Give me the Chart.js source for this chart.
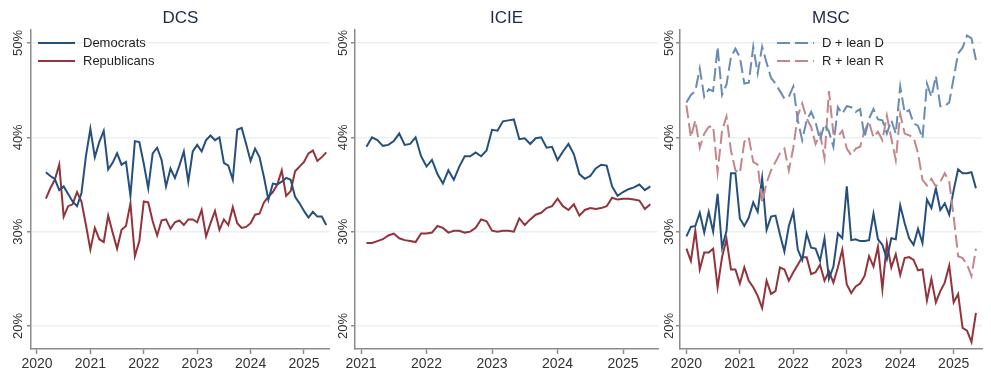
<!DOCTYPE html>
<html>
<head>
<meta charset="utf-8">
<title>Partisan shares: DCS, ICIE, MSC</title>
<script src="https://cdn.jsdelivr.net/npm/chart.js@4.4.1/dist/chart.umd.min.js"></script>
<style>
  html, body { margin: 0; padding: 0; background: #ffffff; }
  #wrap { position: relative; width: 991px; height: 381px; overflow: hidden; }
  #wrap canvas { position: absolute; top: 0; }
</style>
</head>
<body>
<div id="wrap">
  <canvas id="dcsChart" width="330" height="381" style="left:0px"></canvas>
  <canvas id="icieChart" width="330" height="381" style="left:330px"></canvas>
  <canvas id="mscChart" width="331" height="381" style="left:660px"></canvas>
</div>
<script>
// ---- Data (monthly shares, %) ----
const yTicks = [20, 30, 40, 50];
const dcsYears = [2020, 2021, 2022, 2023, 2024, 2025];
const icieYears = [2021, 2022, 2023, 2024, 2025];
const mscYears = [2020, 2021, 2022, 2023, 2024, 2025];

// DCS: March 2020 - June 2025
const dcsStart = [2020, 3];
const dcsDemocrats = [
  36.3, 35.9, 35.6, 34.4, 34.8, 34.0, 33.2, 32.7, 34.1, 38.0,
  40.9, 37.9, 39.5, 40.7, 36.6, 37.3, 38.3, 37.1, 37.4, 33.8, 39.6, 39.5,
  37.2, 34.6, 38.3, 38.9, 37.6, 34.8, 36.7, 35.7, 37.0, 38.5, 35.3, 38.5,
  39.2, 38.5, 39.7, 40.2, 39.7, 40.0, 37.3, 37.0, 35.5, 40.8, 41.0, 39.3,
  37.5, 38.8, 37.9, 35.8, 33.4, 35.1, 35.0, 35.3, 35.7, 35.5, 33.7, 33.0,
  32.2, 31.5, 32.1, 31.6, 31.6, 30.7
];
const dcsRepublicans = [
  33.5, 34.6, 35.5, 37.1, 31.6, 32.7, 32.9, 34.2, 33.2, 30.7,
  28.1, 30.4, 29.2, 28.9, 31.7, 29.9, 28.2, 30.2, 30.6, 33.0, 27.4, 29.0,
  33.2, 33.1, 31.1, 29.6, 31.2, 31.3, 30.3, 31.0, 31.2, 30.7, 31.3, 31.3,
  31.0, 32.3, 29.5, 30.9, 32.2, 30.2, 31.3, 30.7, 32.6, 30.9, 30.4, 30.5,
  30.9, 31.8, 31.9, 33.1, 33.7, 34.2, 35.0, 36.5, 33.8, 34.3, 36.4, 36.9,
  37.4, 38.3, 38.6, 37.5, 37.9, 38.4
];

// ICIE: February 2021 - June 2025
const icieStart = [2021, 2];
const icieDemocrats = [
  39.0, 40.0, 39.7, 39.1, 39.2, 39.6, 40.4, 39.2, 39.3, 40.0, 38.0,
  36.9, 37.6, 36.1, 35.1, 36.5, 35.5, 36.9, 38.0, 38.0, 38.4, 38.0, 38.6,
  40.8, 40.7, 41.7, 41.8, 41.9, 39.8, 39.9, 39.3, 39.9, 40.0, 38.9, 39.0,
  37.6, 38.5, 39.3, 38.2, 36.1, 35.6, 35.9, 36.7, 37.1, 37.0, 34.8, 33.8,
  34.2, 34.5, 34.7, 35.0, 34.4, 34.8
];
const icieRepublicans = [
  28.8, 28.8, 29.0, 29.2, 29.6, 29.8, 29.3, 29.1, 29.0, 28.9, 29.8,
  29.8, 29.9, 30.6, 30.4, 29.9, 30.1, 30.1, 29.9, 30.0, 30.4, 31.3, 31.1,
  30.1, 30.0, 30.1, 30.1, 30.0, 31.4, 30.7, 31.3, 31.8, 32.0, 32.5, 32.7,
  33.5, 32.7, 32.3, 32.9, 31.7, 32.3, 32.5, 32.4, 32.5, 32.7, 33.6, 33.4,
  33.5, 33.5, 33.4, 33.3, 32.4, 32.9
];

// MSC: January 2020 - June 2025
const mscStart = [2020, 1];
const mscDemocrats = [
  29.5, 30.5, 30.6, 32.0, 29.9, 32.1, 30.0, 34.0, 28.3, 30.1, 36.2, 36.2,
  31.4, 30.6, 31.5, 33.1, 32.1, 35.7, 30.2, 31.6, 31.7, 29.7, 27.9, 30.6,
  32.1, 28.1, 27.0, 29.8, 28.3, 28.2, 26.9, 29.3, 25.0, 26.3, 29.8, 29.3,
  34.8, 29.1, 29.2, 29.0, 29.0, 29.1, 31.9, 29.2, 28.6, 27.1, 29.3, 29.2,
  32.8, 30.9, 29.3, 28.6, 30.3, 28.8, 33.4, 32.5, 34.6, 32.3, 33.0, 31.8,
  34.4, 36.6, 36.2, 36.2, 36.3, 34.6
];
const mscRepublicans = [
  28.2, 26.9, 30.1, 26.0, 27.8, 27.8, 28.2, 24.1, 27.3, 29.2, 26.0, 26.0,
  24.5, 26.2, 24.8, 24.1, 23.2, 21.9, 24.8, 23.4, 23.7, 26.2, 26.0, 24.8,
  25.7, 26.5, 27.3, 27.3, 25.5, 25.7, 26.5, 24.8, 25.8, 24.6, 26.2, 28.1,
  24.4, 23.5, 24.2, 24.5, 25.3, 27.4, 26.3, 28.4, 23.9, 28.8, 26.2, 27.6,
  25.4, 27.2, 27.3, 27.0, 25.9, 26.0, 22.7, 25.0, 22.5, 23.7, 24.6, 26.4,
  22.5, 23.4, 19.8, 19.5, 18.3, 21.4
];
const mscLeanD = [
  43.7, 44.5, 44.9, 47.3, 44.3, 45.1, 44.9, 49.6, 44.5, 45.6, 48.5, 49.4,
  48.5, 45.7, 45.8, 49.6, 46.8, 49.6, 47.9, 46.3, 45.7, 44.9, 44.1, 44.3,
  45.4, 41.8, 39.7, 41.8, 42.7, 41.6, 39.7, 41.4, 40.6, 39.0, 43.2, 42.5,
  43.3, 43.2, 42.7, 43.0, 40.0, 42.0, 43.0, 41.9, 41.8, 40.4, 41.8, 40.4,
  45.4, 42.6, 42.9, 41.5, 41.2, 39.9, 45.7, 44.3, 46.5, 43.3, 43.3, 43.7,
  46.3, 48.9, 49.5, 50.8, 50.5, 48.2
];
const mscLeanR = [
  43.4, 40.0, 41.8, 38.9, 40.4, 41.1, 41.2, 36.3, 40.7, 42.2, 38.6, 36.5,
  36.2, 39.5, 40.0, 37.4, 37.1, 33.1, 35.2, 36.5, 37.4, 38.3, 38.8, 36.5,
  38.9, 42.3, 43.6, 42.0, 41.1, 39.3, 40.4, 37.8, 44.9, 40.4, 40.1, 40.7,
  38.8, 38.1, 38.8, 39.0, 40.7, 41.6, 40.0, 40.6, 39.7, 42.3, 39.9, 37.6,
  42.5, 40.4, 40.2, 40.0, 38.3, 35.5, 34.9, 35.6, 34.8, 35.3, 36.2, 35.3,
  31.6, 27.4, 27.2, 26.5, 25.3, 28.2
];

// ---- Styling ----
const FONT = 'Arial, "Liberation Sans", sans-serif';
const DEM = '#25507d';
const REP = '#93333b';
const LEAN_D = '#6a8cb2';
const LEAN_R = '#c4868b';
const AXIS_GRAY = '#8c8c8c';
const GRID = '#e9f1f2';
const TEXT = '#333333';
const TITLE = '#1c2a48';
const Y_MIN = 17.56;
const Y_MAX = 51.38;

// month index -> decimal year
function monthly(start, values) {
  return values.map((v, i) => ({ x: start[0] + (start[1] - 1 + i) / 12, y: v }));
}

function line(label, start, values, color, dash) {
  return {
    label: label,
    data: monthly(start, values),
    borderColor: color,
    backgroundColor: color,
    borderWidth: 2,
    borderDash: dash || [],
    pointRadius: 0,
    tension: 0,
    fill: false
  };
}

// Title + in-plot legend, drawn on top of the chart
const panelDecor = {
  id: 'panelDecor',
  afterDraw(chart, args, opts) {
    const c = chart.ctx;
    const area = chart.chartArea;
    c.save();
    c.fillStyle = TITLE;
    c.font = '17px ' + FONT;
    c.textAlign = 'center';
    c.textBaseline = 'middle';
    c.fillText(opts.title, (area.left + area.right) / 2, 18);

    (opts.legend || []).forEach((idx, i) => {
      const ds = chart.data.datasets[idx];
      const y = opts.legendY + i * 18;
      c.strokeStyle = ds.borderColor;
      c.lineWidth = 2;
      c.setLineDash(ds.borderDash || []);
      c.beginPath();
      c.moveTo(opts.legendX, y);
      c.lineTo(opts.legendX + 37, y);
      c.stroke();
      c.setLineDash([]);
      c.fillStyle = '#222222';
      c.font = '13px ' + FONT;
      c.textAlign = 'left';
      c.fillText(ds.label, opts.legendX + 45, y);
    });
    c.restore();
  }
};

function makePanel(id, p) {
  const ctx = document.getElementById(id);
  return new Chart(ctx, {
    type: 'line',
    data: { datasets: p.datasets },
    options: {
      responsive: false,
      animation: false,
      events: [],
      layout: { padding: { top: 30, right: p.padRight, bottom: 0, left: 0 } },
      plugins: {
        legend: { display: false },
        title: { display: false },
        tooltip: { enabled: false },
        panelDecor: { title: p.title, legend: p.legend, legendX: p.legendX, legendY: 43 }
      },
      scales: {
        x: {
          type: 'linear',
          min: p.xMin,
          max: p.xMax,
          afterBuildTicks: s => { s.ticks = p.years.map(v => ({ value: v })); },
          afterFit: s => { s.height = 32; },
          grid: { drawOnChartArea: false, drawTicks: true, tickLength: 5, tickColor: AXIS_GRAY, tickWidth: 1.5 },
          border: { color: AXIS_GRAY, width: 1.5 },
          ticks: {
            callback: v => String(v),
            color: TEXT,
            font: { size: 14, family: FONT },
            padding: 2,
            maxRotation: 0,
            autoSkip: false
          }
        },
        y: {
          type: 'linear',
          min: Y_MIN,
          max: Y_MAX,
          afterBuildTicks: s => { s.ticks = yTicks.map(v => ({ value: v })); },
          afterFit: s => { s.width = p.axisLeft; },
          grid: { color: GRID, lineWidth: 1.5, tickLength: 4, tickColor: AXIS_GRAY, tickWidth: 1.5 },
          border: { color: AXIS_GRAY, width: 1.5 },
          ticks: {
            callback: v => v + '%',
            color: TEXT,
            font: { size: 13, family: FONT },
            minRotation: 90,
            maxRotation: 90,
            crossAlign: 'center',
            padding: p.yLabelPad
          }
        }
      }
    },
    plugins: [panelDecor]
  });
}

document.addEventListener('DOMContentLoaded', function() {
  makePanel('dcsChart', {
    title: 'DCS',
    years: dcsYears,
    xMin: 2019.888, xMax: 2025.487,
    axisLeft: 31, padRight: 0, yLabelPad: -4,
    legend: [0, 1], legendX: 38,
    datasets: [
      line('Democrats', dcsStart, dcsDemocrats, DEM),
      line('Republicans', dcsStart, dcsRepublicans, REP)
    ]
  });

  makePanel('icieChart', {
    title: 'ICIE',
    years: icieYears,
    xMin: 2020.908, xMax: 2025.534,
    axisLeft: 25, padRight: 2, yLabelPad: -5,
    legend: [],
    datasets: [
      line('Democrats', icieStart, icieDemocrats, DEM),
      line('Republicans', icieStart, icieRepublicans, REP)
    ]
  });

  makePanel('mscChart', {
    title: 'MSC',
    years: mscYears,
    xMin: 2019.88, xMax: 2025.53,
    axisLeft: 20, padRight: 9, yLabelPad: -6,
    legend: [0, 1], legendX: 117,
    datasets: [
      line('D + lean D', mscStart, mscLeanD, LEAN_D, [13, 5]),
      line('R + lean R', mscStart, mscLeanR, LEAN_R, [13, 5]),
      line('Democrats', mscStart, mscDemocrats, DEM),
      line('Republicans', mscStart, mscRepublicans, REP)
    ]
  });
});
</script>
</body>
</html>
